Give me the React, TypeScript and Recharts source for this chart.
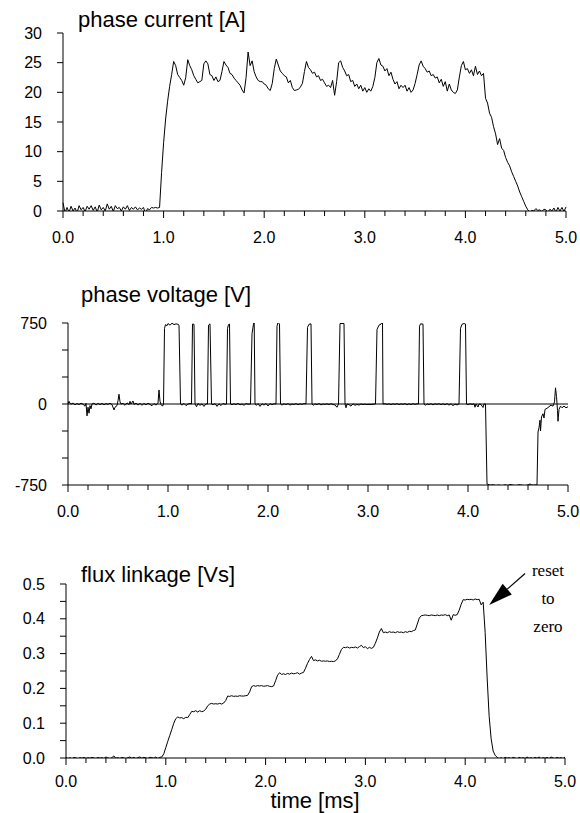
import React from 'react';
import { LineChart, Line, XAxis, YAxis, ReferenceLine } from 'recharts';

const FONT = '"Liberation Sans", Arial, Helvetica, sans-serif';
const SERIF = '"Liberation Serif", "Times New Roman", Times, serif';

// time axis ticks [ms]
const timeTicks = [0, 0.2, 0.4, 0.6, 0.8, 1, 1.2, 1.4, 1.6, 1.8, 2, 2.2, 2.4, 2.6, 2.8, 3, 3.2, 3.4, 3.6, 3.8, 4, 4.2, 4.4, 4.6, 4.8, 5];
const sampleStep = 0.02; // ms between samples of current / flux

const currentTicks = [0, 5, 10, 15, 20, 25, 30];
const voltageTicks = [-750, -500, -250, 0, 250, 500, 750];
const voltageLabels = [-750, 0, 750];
const fluxTicks = [0, 0.05, 0.1, 0.15, 0.2, 0.25, 0.3, 0.35, 0.4, 0.45, 0.5];
const fluxLabels = [0, 0.1, 0.2, 0.3, 0.4, 0.5];

// phase current [A], sampled every 0.02 ms from 0 to 5 ms
const phaseCurrent = [
  1.4, -0.3, 0.6, -0.2, 0.8, 0.0, 0.5, -0.3, 0.9, 0.2,
  0.6, -0.1, 0.8, 0.3, 0.9, 0.1, 0.7, -0.2, 1.0, 0.2,
  0.6, 0.0, 1.2, 0.3, 0.8, -0.1, 0.9, 0.4, 0.6, 0.0,
  0.7, 0.3, 0.9, 0.1, 0.6, 0.3, 0.7, 0.2, 0.5, 0.3,
  0.6, -0.4, 0.4, 0.2, 0.6, 0.5, 0.6, 0.5, 0.6, 6.5,
  11.5, 15.5, 18.5, 21.0, 23.0, 25.2, 24.5, 23.0, 22.5, 22.0,
  21.2, 22.5, 25.5, 24.5, 23.8, 22.8, 22.2, 21.6, 21.8, 22.0,
  24.8, 25.3, 24.8, 23.0, 22.8, 22.0, 22.6, 21.8, 22.0, 23.5,
  25.2, 24.6, 24.2, 23.2, 23.0, 22.4, 22.0, 21.6, 21.2, 20.4,
  19.9, 22.5, 26.8, 24.5, 25.3, 23.5, 22.6, 22.0, 21.8, 21.8,
  21.4, 21.2, 20.6, 20.3, 21.5, 24.0, 25.6, 24.6, 23.6, 23.2,
  22.8, 22.6, 21.6, 22.0, 20.8, 20.3, 20.4, 20.5, 20.9, 21.5,
  23.5, 25.2, 24.2, 23.8, 23.2, 23.4, 22.6, 22.8, 22.0, 22.2,
  21.6, 21.0, 21.2, 20.8, 22.0, 19.5, 21.8, 25.0, 25.3, 24.2,
  23.6, 22.8, 23.0, 21.8, 22.0, 21.0, 21.4, 20.6, 21.2, 20.2,
  20.8, 20.0, 20.6, 20.2, 21.0, 22.5, 25.0, 25.7, 24.6, 24.4,
  23.6, 24.0, 22.8, 23.4, 22.2, 21.4, 21.8, 20.6, 21.2, 20.8,
  21.2, 20.2, 20.8, 20.0, 20.4, 21.5, 23.0, 24.6, 25.3, 24.4,
  24.0, 23.4, 23.6, 22.8, 23.0, 22.4, 22.6, 21.6, 22.2, 21.0,
  21.8, 20.2, 21.4, 20.4, 20.0, 19.8, 20.4, 22.6, 24.5, 25.2,
  23.8, 24.0, 23.2, 23.8, 22.8, 24.4, 23.0, 23.6, 22.8, 23.2,
  19.0, 18.2, 16.5, 15.8, 14.2, 13.0, 11.2, 12.2, 10.6, 10.2,
  9.0, 8.2, 7.6, 6.6, 5.8, 5.0, 4.2, 3.2, 2.4, 1.6,
  0.8, 0.2, -0.2, 0.1, 0.0, 0.4, 0.1, 0.2, -0.1, 0.3,
  0.2, -0.2, 0.3, 0.0, 0.5, -0.2, 0.6, 0.0, 0.6, -0.1, 0.7,
];

// phase voltage [V] as (time [ms], value) points
const phaseVoltage: [number, number][] = [
  [0.0, 0], [0.01, 25], [0.02, 5], [0.03, 0], [0.05, 8], [0.07, -8], [0.09, 5], [0.11, -6], [0.13, 8], [0.15, -2],
  [0.17, -20], [0.18, 5], [0.19, -110], [0.2, -30], [0.21, -85], [0.22, -15], [0.23, -45], [0.24, 0], [0.26, 8], [0.28, -10],
  [0.3, 6], [0.32, -6], [0.34, 6], [0.36, -8], [0.38, 4], [0.4, -4], [0.42, 8], [0.44, -6], [0.46, -55], [0.47, -30],
  [0.49, -15], [0.5, 30], [0.51, 90], [0.52, 20], [0.53, 0], [0.55, 6], [0.57, -12], [0.59, 10], [0.61, -6], [0.62, 25],
  [0.63, 0], [0.65, 28], [0.66, -4], [0.68, 8], [0.7, -10], [0.72, 6], [0.74, -12], [0.76, 6], [0.78, -8], [0.8, 8],
  [0.82, -4], [0.84, -16], [0.86, 4], [0.88, -10], [0.9, 8], [0.91, 130], [0.92, 25], [0.93, -5], [0.945, -20], [0.955, 0],
  [0.965, 700], [0.975, 735], [0.99, 725], [1.0, 745], [1.02, 730], [1.04, 748], [1.06, 735], [1.08, 742], [1.1, 738], [1.11, 730],
  [1.125, 0], [1.14, -10], [1.16, 5], [1.18, -15], [1.2, 0], [1.22, 5],
  [1.235, 0], [1.245, 740], [1.26, 738], [1.27, 0], [1.285, -25], [1.3, 5], [1.32, -12], [1.34, 0], [1.36, -22], [1.38, 2], [1.395, 0],
  [1.405, 730], [1.42, 742], [1.435, 0], [1.45, -8], [1.47, 4], [1.49, -22], [1.51, 2], [1.53, -15], [1.55, 5], [1.57, -3], [1.585, 0],
  [1.595, 700], [1.605, 735], [1.615, 740], [1.625, 0], [1.64, -6], [1.66, 2], [1.68, -6], [1.7, 6], [1.72, -8], [1.74, 0],
  [1.76, -12], [1.78, 4], [1.8, -2], [1.825, 0],
  [1.84, 650], [1.855, 740], [1.862, 762], [1.87, 0], [1.885, -12], [1.9, 4], [1.92, -22], [1.94, 2], [1.96, -10], [1.98, 5],
  [2.0, -18], [2.02, 4], [2.04, -6], [2.06, 2], [2.08, 0],
  [2.09, 720], [2.1, 755], [2.115, 740], [2.125, 0], [2.14, -10], [2.16, 2], [2.18, -6], [2.2, 4], [2.22, -10], [2.24, 0],
  [2.26, -5], [2.28, 4], [2.3, -8], [2.32, 2], [2.34, -4], [2.36, 4], [2.38, 0],
  [2.395, 710], [2.41, 738], [2.43, 742], [2.44, 0], [2.455, -10], [2.47, 2], [2.49, -6], [2.51, 4], [2.53, -8], [2.55, 0],
  [2.57, -4], [2.59, 2], [2.61, -6], [2.63, 3], [2.65, -5], [2.67, -8], [2.69, -30], [2.705, 0],
  [2.72, 745], [2.76, 745], [2.77, 0], [2.78, -35], [2.79, 0], [2.81, -5], [2.83, -20], [2.85, 2], [2.87, -12], [2.89, -4],
  [2.91, -10], [2.93, 0], [2.95, -6], [2.97, -2], [2.99, -6], [3.01, -3], [3.03, -5], [3.05, -2], [3.075, 0],
  [3.09, 690], [3.11, 730], [3.13, 740], [3.145, 765], [3.15, 0], [3.17, 2], [3.19, -4], [3.21, 2], [3.23, -6], [3.25, 2],
  [3.27, -4], [3.29, 4], [3.31, -6], [3.33, 2], [3.35, -4], [3.37, 4], [3.39, -8], [3.41, 2], [3.43, -6], [3.45, 4],
  [3.47, -4], [3.49, 2], [3.505, 0],
  [3.515, 720], [3.525, 742], [3.55, 740], [3.56, 0], [3.575, -12], [3.59, 2], [3.61, -6], [3.63, 3], [3.65, -8], [3.67, 2],
  [3.69, -4], [3.71, 3], [3.73, -6], [3.75, 2], [3.77, -8], [3.79, 4], [3.81, -10], [3.83, 2], [3.85, -15], [3.87, -2],
  [3.89, -8], [3.91, 0],
  [3.925, 700], [3.94, 738], [3.96, 745], [3.975, 740], [3.985, 0], [4.0, -6], [4.02, 2], [4.04, -4], [4.06, 2], [4.07, -30],
  [4.08, 0], [4.1, -28], [4.11, 0], [4.13, -5], [4.15, -32], [4.16, 0], [4.175, 0],
  [4.19, -740], [4.22, -752], [4.25, -748], [4.28, -755], [4.31, -750], [4.34, -758], [4.37, -748], [4.4, -755], [4.42, -745], [4.45, -752],
  [4.48, -755], [4.51, -748], [4.54, -752], [4.57, -756], [4.6, -750], [4.62, -740], [4.64, -752], [4.67, -750], [4.69, -748], [4.7, -260],
  [4.71, -220], [4.72, -150], [4.725, -250], [4.735, -120], [4.75, -90], [4.76, -130], [4.77, -50], [4.79, -40], [4.81, -25], [4.83, -10],
  [4.85, -20], [4.865, 20], [4.875, 150], [4.885, 70], [4.895, -60], [4.9, -160], [4.91, -50], [4.925, -20], [4.94, -35], [4.96, -20],
  [4.98, -35], [5.0, -25],
];

// flux linkage [Vs], sampled every 0.02 ms from 0 to 5 ms
const fluxLinkage = [
  0.002, -0.002, 0.001, -0.003, 0.002, 0.000, -0.002, 0.001, -0.001, 0.002,
  -0.002, 0.001, -0.001, 0.002, 0.000, -0.002, 0.002, -0.001, 0.001, -0.002,
  0.003, 0.000, -0.002, 0.001, 0.006, -0.001, 0.001, -0.002, 0.002, 0.000,
  -0.002, 0.001, 0.003, -0.001, 0.002, -0.002, 0.001, 0.003, -0.001, 0.002,
  0.000, -0.002, 0.002, 0.001, -0.001, 0.003, -0.002, 0.002, 0.003, 0.012,
  0.030, 0.048, 0.065, 0.082, 0.100, 0.113, 0.118, 0.115, 0.116, 0.113,
  0.117, 0.116, 0.125, 0.134, 0.133, 0.136, 0.132, 0.136, 0.133, 0.135,
  0.140, 0.150, 0.155, 0.157, 0.155, 0.156, 0.155, 0.157, 0.155, 0.158,
  0.165, 0.178, 0.177, 0.179, 0.177, 0.178, 0.177, 0.179, 0.178, 0.178,
  0.179, 0.180, 0.190, 0.205, 0.208, 0.206, 0.208, 0.207, 0.208, 0.206,
  0.207, 0.208, 0.206, 0.205, 0.207, 0.222, 0.238, 0.245, 0.240, 0.242,
  0.240, 0.243, 0.241, 0.244, 0.242, 0.243, 0.245, 0.241, 0.244, 0.246,
  0.258, 0.272, 0.283, 0.292, 0.280, 0.282, 0.279, 0.281, 0.278, 0.279,
  0.278, 0.279, 0.277, 0.278, 0.277, 0.279, 0.285, 0.298, 0.312, 0.318,
  0.317, 0.319, 0.316, 0.318, 0.317, 0.319, 0.316, 0.320, 0.324, 0.317,
  0.320, 0.314, 0.318, 0.315, 0.318, 0.330, 0.345, 0.362, 0.372, 0.360,
  0.362, 0.360, 0.363, 0.361, 0.362, 0.360, 0.363, 0.361, 0.362, 0.360,
  0.363, 0.361, 0.364, 0.363, 0.366, 0.368, 0.385, 0.402, 0.409, 0.410,
  0.411, 0.410, 0.409, 0.411, 0.410, 0.409, 0.411, 0.409, 0.411, 0.410,
  0.412, 0.409, 0.411, 0.396, 0.412, 0.410, 0.412, 0.425, 0.442, 0.455,
  0.454, 0.456, 0.455, 0.456, 0.454, 0.457, 0.455, 0.456, 0.440, 0.448,
  0.360, 0.230, 0.120, 0.055, 0.020, 0.008, 0.002, -0.002, 0.001, -0.003,
  0.002, -0.001, 0.001, -0.002, 0.002, 0.000, -0.003, 0.002, -0.001, 0.001,
  -0.002, 0.003, -0.001, 0.001, -0.002, 0.002, -0.001, 0.003, -0.002, 0.001,
  -0.001, 0.002, -0.002, 0.003, 0.000, -0.002, 0.002, -0.001, 0.001, -0.002, 0.003,
];

// annotation arrow (time [ms], flux [Vs]) from label to the flux peak
const arrowTail = { x: 4.6, y: 0.53 };
const arrowTip = { x: 4.24, y: 0.44 };
const annotationLines = ['reset', 'to', 'zero'];

const currentData = phaseCurrent.map((v, i) => ({ t: +(i * sampleStep).toFixed(2), v }));
const fluxData = fluxLinkage.map((v, i) => ({ t: +(i * sampleStep).toFixed(2), v }));
const voltageData = phaseVoltage.map(([t, v]) => ({ t, v }));

const TICK_SIZE = 6;
const TICK_MARGIN = 15;
const TICK_FONT = 16;

function makeTimeTick(margin: number) {
  return function TimeTick(props: any) {
    const { x, y, payload } = props;
    const v = payload.value as number;
    const major = Math.abs(v - Math.round(v)) < 1e-6;
    const y0 = y - TICK_SIZE - margin;
    return (
      <g>
        <line x1={x} x2={x} y1={y0} y2={y0 + (major ? 7 : 5)} stroke="#000" strokeWidth={1} />
        {major ? (
          <text x={x} y={y} dy="0.71em" textAnchor="middle" fontSize={TICK_FONT} fontFamily={FONT} fill="#000">
            {v.toFixed(1)}
          </text>
        ) : null}
      </g>
    );
  };
}

function ArrowShape(props: any) {
  const { x1, y1, x2, y2 } = props;
  const dx = x2 - x1;
  const dy = y2 - y1;
  const len = Math.sqrt(dx * dx + dy * dy) || 1;
  const ux = dx / len;
  const uy = dy / len;
  const headLen = 24;
  const headHalf = 7;
  const bx = x2 - ux * headLen;
  const by = y2 - uy * headLen;
  const px = -uy;
  const py = ux;
  return (
    <g>
      <line x1={x1} y1={y1} x2={bx} y2={by} stroke="#000" strokeWidth={1.2} />
      <polygon
        points={`${x2},${y2} ${bx + px * headHalf},${by + py * headHalf} ${bx - px * headHalf},${by - py * headHalf}`}
        fill="#000"
      />
    </g>
  );
}

const axisTick = { fill: '#000', fontSize: TICK_FONT, fontFamily: FONT };

const titleStyle: React.CSSProperties = {
  position: 'absolute',
  fontFamily: FONT,
  fontSize: 22,
  lineHeight: '22px',
  color: '#000',
  whiteSpace: 'nowrap',
};

function xAxisProps(margin: number) {
  const Tick = makeTimeTick(margin);
  return {
    dataKey: 't',
    type: 'number' as const,
    domain: [0, 5] as [number, number],
    ticks: timeTicks,
    interval: 0 as const,
    tickLine: false,
    tickSize: TICK_SIZE,
    tickMargin: margin,
    axisLine: { stroke: '#000', strokeWidth: 1 },
    tick: (p: any) => <Tick {...p} />,
  };
}

export default function App() {
  const yAxisCommon = {
    type: 'number' as const,
    interval: 0 as const,
    allowDataOverflow: true,
    tickSize: TICK_SIZE,
    tickMargin: TICK_MARGIN,
    tickLine: { stroke: '#000' },
    axisLine: { stroke: '#000', strokeWidth: 1 },
    tick: axisTick,
  };
  return (
    <div style={{ position: 'absolute', left: 0, top: 0, width: 580, height: 813, background: '#fff' }}>
      <div style={{ ...titleStyle, left: 78, top: 9 }}>phase current [A]</div>
      <div style={{ position: 'absolute', left: 0, top: 0 }}>
        <LineChart width={580} height={250} data={currentData} margin={{ top: 33, right: 14, bottom: 0, left: 0 }}>
          <XAxis {...xAxisProps(TICK_MARGIN)} height={39} />
          <YAxis {...yAxisCommon} width={63} domain={[0, 30]} ticks={currentTicks} />
          <Line dataKey="v" type="linear" stroke="#000" strokeWidth={1} dot={false} isAnimationActive={false} />
        </LineChart>
      </div>

      <div style={{ ...titleStyle, left: 81, top: 284 }}>phase voltage [V]</div>
      <div style={{ position: 'absolute', left: 0, top: 270 }}>
        <LineChart width={580} height={260} data={voltageData} margin={{ top: 53, right: 12, bottom: 0, left: 0 }}>
          <XAxis {...xAxisProps(TICK_MARGIN)} height={45} />
          <YAxis
            {...yAxisCommon}
            width={68}
            domain={[-750, 750]}
            ticks={voltageTicks}
            tickFormatter={(v: number) => (voltageLabels.includes(v) ? String(v) : '')}
          />
          <ReferenceLine y={0} stroke="#000" strokeWidth={1} />
          <Line dataKey="v" type="linear" stroke="#000" strokeWidth={1} dot={false} isAnimationActive={false} />
        </LineChart>
      </div>

      <div style={{ ...titleStyle, left: 81, top: 564 }}>flux linkage [Vs]</div>
      <div style={{ position: 'absolute', left: 0, top: 550 }}>
        <LineChart width={580} height={263} data={fluxData} margin={{ top: 34, right: 15, bottom: 0, left: 0 }}>
          <XAxis {...xAxisProps(12)} height={55} />
          <YAxis
            {...yAxisCommon}
            width={66}
            domain={[0, 0.5]}
            ticks={fluxTicks}
            tickFormatter={(v: number) => (fluxLabels.some((l) => Math.abs(l - v) < 1e-9) ? v.toFixed(1) : '')}
          />
          <Line dataKey="v" type="linear" stroke="#000" strokeWidth={1} dot={false} isAnimationActive={false} />
          <ReferenceLine segment={[arrowTail, arrowTip]} ifOverflow="visible" shape={ArrowShape} />
        </LineChart>
      </div>

      {annotationLines.map((s, i) => (
        <div
          key={s}
          style={{
            position: 'absolute',
            left: 518,
            width: 60,
            top: 562 + i * 28,
            textAlign: 'center',
            fontFamily: SERIF,
            fontSize: 17,
            lineHeight: '17px',
            color: '#000',
          }}
        >
          {s}
        </div>
      ))}

      <div style={{ ...titleStyle, lineHeight: '18px', left: 0, width: 630, textAlign: 'center', top: 792 }}>time [ms]</div>
    </div>
  );
}
